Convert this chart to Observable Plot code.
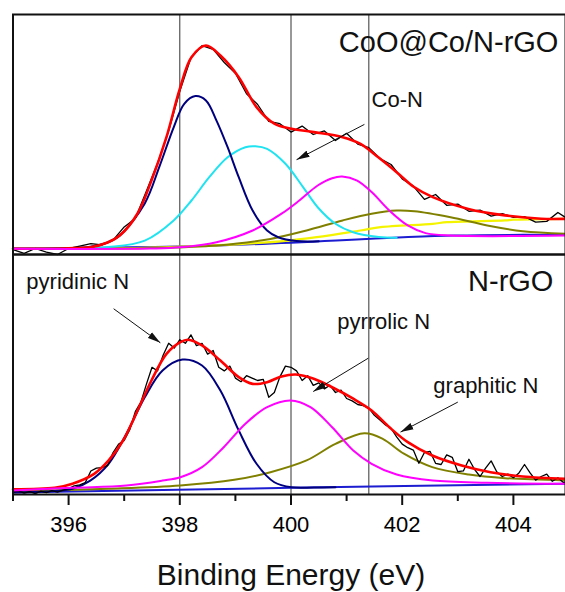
<!DOCTYPE html>
<html><head><meta charset="utf-8">
<script src="https://cdn.jsdelivr.net/npm/d3@7"></script>
<script src="https://cdn.jsdelivr.net/npm/@observablehq/plot@0.6"></script>
<style>html,body{margin:0;padding:0;background:#fff;overflow:hidden} svg{display:block}</style>
</head><body><div id="chart"></div>
<script>
// ---------------- data ----------------
const panels = ["CoO@Co/N-rGO", "N-rGO"];
const xTicksMajor = [396, 398, 400, 402, 404];
const xTicksMinor = [395, 397, 399, 401, 403, 405];
const refLines = [398.0, 400.0, 401.4];
const axisTitle = "Binding Energy (eV)";

// CoO@Co/N-rGO (top panel), intensity in a.u.
const topRaw = [[395.0,2.0],[395.2,0.5],[395.4,2.5],[395.6,1.0],[395.8,0.0],[396.0,2.5],[396.2,3.5],[396.4,4.5],[396.6,4.0],[396.8,6.0],[397.0,11.5],[397.2,15.0],[397.4,26.5],[397.6,38.0],[397.8,51.5],[398.0,68.0],[398.2,82.0],[398.4,87.0],[398.6,85.5],[398.8,80.0],[399.0,75.5],[399.2,67.0],[399.4,62.5],[399.6,55.5],[399.8,54.5],[400.0,51.0],[400.2,53.5],[400.4,50.0],[400.6,51.5],[400.8,47.5],[401.0,50.5],[401.2,46.0],[401.4,44.5],[401.6,40.0],[401.8,37.5],[402.0,31.5],[402.2,28.5],[402.4,23.0],[402.6,25.0],[402.8,20.5],[403.0,21.0],[403.2,18.0],[403.4,18.5],[403.6,16.0],[403.8,17.0],[404.0,15.5],[404.2,15.8],[404.4,13.5],[404.6,13.8],[404.8,17.5],[405.0,14.5]];
const topFit = [[395.0,2.4],[395.5,2.4],[396.0,2.6],[396.39,3.0],[396.7,5.0],[396.92,7.9],[397.24,17.1],[397.49,30.8],[397.76,48.9],[398.0,69.0],[398.21,82.2],[398.47,87.1],[398.73,82.9],[399.06,73.9],[399.38,61.4],[399.7,54.5],[400.01,52.4],[400.41,51.0],[400.93,48.9],[401.25,46.1],[401.57,40.5],[401.9,34.3],[402.22,28.0],[402.55,23.9],[403.19,19.0],[403.85,16.3],[404.5,14.9],[405.0,14.9]];
const topPyridinic = [[395.0,2.4],[396.0,2.6],[396.39,3.2],[396.7,5.0],[396.92,7.9],[397.37,21.3],[397.63,36.4],[397.89,53.0],[398.08,62.8],[398.28,66.0],[398.47,64.2],[398.66,55.8],[398.86,44.7],[399.06,32.2],[399.31,18.3],[399.57,10.0],[399.77,7.2],[400.1,5.6],[400.5,5.5]];
const topCoN = [[395.0,2.4],[395.85,2.5],[396.72,3.1],[397.37,5.8],[397.89,14.2],[398.21,22.5],[398.53,32.2],[398.86,40.5],[399.18,44.7],[399.36,45.1],[399.57,44.0],[399.9,37.8],[400.22,28.0],[400.48,19.7],[400.8,12.8],[401.12,9.3],[401.58,7.3],[401.9,7.0]];
const topPyrrolic = [[395.0,2.4],[397.47,2.5],[398.01,3.0],[398.66,5.1],[399.31,10.0],[399.83,17.0],[400.15,22.5],[400.48,28.75],[400.74,31.8],[400.92,32.5],[401.19,30.8],[401.45,26.0],[401.77,18.3],[402.1,12.1],[402.42,8.9],[402.87,7.9],[405.0,7.9]];
const topGraphitic = [[395.0,2.4],[397.47,2.7],[398.66,3.75],[399.63,6.5],[400.28,10.0],[400.93,14.2],[401.45,17.0],[401.9,18.3],[402.22,18.0],[402.87,15.5],[403.53,12.1],[404.17,9.7],[405.0,8.6]];
const topBackground = [[395.0,2.4],[397.69,3.0],[399.95,5.8],[401.25,10.0],[401.61,11.4],[402.55,12.8],[402.81,13.5],[403.85,14.2],[404.0,14.5],[405.0,14.9]];
const topBaseline = [[395.0,2.4],[398.66,3.75],[402.94,7.9],[405.0,8.1]];

// N-rGO (bottom panel)
const botRaw = [[395.0,1.0],[395.1,1.5],[395.2,0.6],[395.3,1.2],[395.4,0.4],[395.5,1.4],[395.6,0.8],[395.7,1.6],[395.8,1.0],[395.9,1.8],[396.0,2.5],[396.1,3.6],[396.2,4.0],[396.3,5.0],[396.4,9.8],[396.5,11.0],[396.6,11.2],[396.7,12.0],[396.8,17.5],[396.9,21.0],[397.0,22.5],[397.1,27.0],[397.2,34.5],[397.3,38.5],[397.4,46.0],[397.5,53.0],[397.6,51.5],[397.7,58.0],[397.8,63.0],[397.9,61.0],[398.0,64.5],[398.1,63.0],[398.2,66.5],[398.3,62.0],[398.4,63.0],[398.5,58.5],[398.6,60.0],[398.7,53.0],[398.8,51.5],[398.9,53.5],[399.0,48.5],[399.1,47.0],[399.2,49.5],[399.3,48.5],[399.4,47.5],[399.5,48.0],[399.6,40.5],[399.7,42.5],[399.8,49.0],[399.9,53.5],[400.0,53.0],[400.1,51.5],[400.2,47.5],[400.3,49.5],[400.4,45.5],[400.5,46.5],[400.6,44.0],[400.7,45.5],[400.8,42.5],[400.9,43.5],[401.0,40.0],[401.1,39.0],[401.2,37.5],[401.3,37.0],[401.4,36.0],[401.5,33.0],[401.6,31.0],[401.7,29.0],[401.8,27.5],[401.9,24.0],[402.0,21.0],[402.1,19.5],[402.2,18.5],[402.3,13.0],[402.4,17.5],[402.5,18.0],[402.6,13.0],[402.7,12.5],[402.8,16.5],[402.9,15.5],[403.0,9.5],[403.1,9.8],[403.2,14.7],[403.3,10.5],[403.4,7.5],[403.5,11.0],[403.6,14.0],[403.7,9.5],[403.8,7.5],[403.9,8.5],[404.0,7.0],[404.1,9.0],[404.2,12.5],[404.3,9.0],[404.4,6.0],[404.5,7.5],[404.6,8.5],[404.7,5.5],[404.8,7.0],[404.9,5.0],[405.0,5.5]];
const botFit = [[395.0,2.2],[395.75,2.8],[396.07,4.5],[396.46,8.6],[396.72,14.2],[396.98,22.5],[397.24,35.0],[397.49,47.5],[397.76,58.6],[398.01,63.5],[398.15,64.5],[398.4,62.1],[398.73,55.8],[399.06,48.9],[399.31,46.1],[399.57,46.8],[399.83,49.2],[400.09,50.0],[400.41,48.2],[400.74,44.7],[401.12,39.9],[401.45,35.0],[401.77,28.0],[402.1,21.8],[402.54,16.25],[403.07,12.1],[403.59,9.3],[404.17,7.5],[405.0,6.5]];
const botPyridinic = [[395.0,0.9],[395.6,1.2],[396.07,2.4],[396.39,5.8],[396.72,12.8],[397.04,25.3],[397.37,40.5],[397.69,51.7],[398.05,56.25],[398.4,53.75],[398.73,43.3],[399.06,26.7],[399.38,12.8],[399.7,5.1],[400.01,3.0],[400.41,2.9],[400.8,3.0]];
const botPyrrolic = [[395.0,1.7],[396.07,2.8],[397.04,3.75],[397.69,5.8],[398.01,7.2],[398.4,11.4],[398.79,19.7],[399.18,29.5],[399.57,36.4],[399.99,39.2],[400.35,36.4],[400.74,28.0],[401.12,18.3],[401.45,12.8],[401.9,8.3],[402.55,5.8],[403.53,4.9],[405.0,4.5]];
const botGraphitic = [[395.0,1.3],[396.72,2.4],[398.01,3.75],[398.98,6.1],[399.63,9.3],[400.28,14.2],[400.8,21.1],[401.32,25.5],[401.65,23.2],[402.03,17.0],[402.54,11.4],[403.2,8.3],[403.85,6.8],[405.0,5.8]];
const botBaseline = [[395.0,0.8],[400.01,2.8],[405.0,4.5]];

// annotations (data coordinates)
const sampleX = [404.81, 404.72];
const sampleY = [84.3, 85.0];
const peakLabels = ["Co-N", "pyridinic N", "pyrrolic N", "graphitic N"];
const peakLabelPanel = [panels[0], panels[1], panels[1], panels[1]];
const peakLabelX = [401.45, 395.24, 400.83, 402.56];
const peakLabelY = [61.4, 85.7, 69.0, 42.4];
const arrowX1 = [401.32, 396.81, 401.39, 403.0];
const arrowY1 = [54.2, 77.4, 56.8, 38.5];
const arrowX2 = [400.10, 397.65, 400.40, 401.97];
const arrowY2 = [39.5, 63.2, 42.9, 26.0];

// ---------------- styles ----------------
const style = {
  baseline:   {color: "#1c1cd0", width: 2},
  background: {color: "#f4f400", width: 2.2},
  graphitic:  {color: "#808000", width: 2},
  CoN:        {color: "#1fe3f0", width: 2},
  pyridinic:  {color: "#00007f", width: 2},
  raw:        {color: "#000000", width: 1.3},
  fit:        {color: "#ff0000", width: 2.6},
  pyrrolic:   {color: "#ff00ff", width: 2}
};
const order = ["baseline","background","graphitic","CoN","pyridinic","raw","fit","pyrrolic"];
const sets = {
  [panels[0]]: {baseline: topBaseline, background: topBackground, graphitic: topGraphitic, CoN: topCoN, pyridinic: topPyridinic, raw: topRaw, fit: topFit, pyrrolic: topPyrrolic},
  [panels[1]]: {baseline: botBaseline, graphitic: botGraphitic, pyridinic: botPyridinic, raw: botRaw, fit: botFit, pyrrolic: botPyrrolic}
};
const rows = [];
for (const p of panels) for (const k of order) if (sets[p][k]) for (const [x, y] of sets[p][k]) rows.push({panel: p, key: k, x, y});

const font = "'Liberation Sans', Arial, Helvetica, sans-serif";
const lineMarks = order.map(k => Plot.line(rows.filter(r => r.key === k), {
  x: "x", y: "y", fy: "panel", stroke: style[k].color, strokeWidth: style[k].width,
  curve: k === "raw" ? "linear" : "catmull-rom", strokeLinejoin: "round"
}));

const idx4 = d3.range(peakLabels.length);
const chart = Plot.plot({
  width: 565, height: 592,
  marginTop: 14, marginBottom: 98, marginLeft: 12.5, marginRight: 0,
  style: {fontFamily: font, background: "#fff", color: "#000"},
  x: {domain: [395, 405], range: [12.5, 568.5]},
  y: {domain: [0, 100], axis: null},
  fy: {domain: panels, axis: null, padding: 0},
  marks: [
    Plot.ruleX(refLines, {stroke: "#333", strokeWidth: 1}),
    ...lineMarks,
    Plot.frame({stroke: "#111", strokeWidth: 2}),
    Plot.axisX({ticks: xTicksMajor, tickSize: 11, tickPadding: 11, fontSize: 22, strokeWidth: 2, stroke: "#111", tickFormat: d => String(d), label: null}),
    Plot.axisX({ticks: xTicksMinor, tickSize: 7, strokeWidth: 2, stroke: "#111", tickFormat: () => "", label: null}),
    Plot.text(panels, {x: sampleX, y: sampleY, fy: panels, text: d => d, textAnchor: "end", lineAnchor: "bottom", fontSize: 29, fill: "#111"}),
    Plot.text(idx4, {x: arrowX1.map((_, i) => peakLabelX[i]), y: peakLabelY, fy: peakLabelPanel, text: i => peakLabels[i], textAnchor: "start", lineAnchor: "bottom", fontSize: 22, fill: "#111"}),
    Plot.link(idx4, {x1: arrowX1, y1: arrowY1, x2: arrowX2, y2: arrowY2, fy: peakLabelPanel, stroke: "#111", strokeWidth: 1, className: "arrowlink"}),
    Plot.text([axisTitle], {x: [400], fy: [panels[1]], frameAnchor: "bottom", lineAnchor: "bottom", dy: 90, fontSize: 30, text: d => d, fill: "#111"})
  ]
});

document.getElementById("chart").appendChild(chart);
const svg = d3.select(chart);
const defs = svg.append("defs");
defs.append("marker").attr("id", "arrowhead")
  .attr("viewBox", "-13 -4 13 8").attr("markerWidth", 13).attr("markerHeight", 8)
  .attr("markerUnits", "userSpaceOnUse").attr("orient", "auto")
  .append("path").attr("d", "M-13,-3.5L0,0L-13,3.5Z").attr("fill", "#111");
svg.selectAll(".arrowlink path").attr("marker-end", "url(#arrowhead)");
</script>
</body></html>
